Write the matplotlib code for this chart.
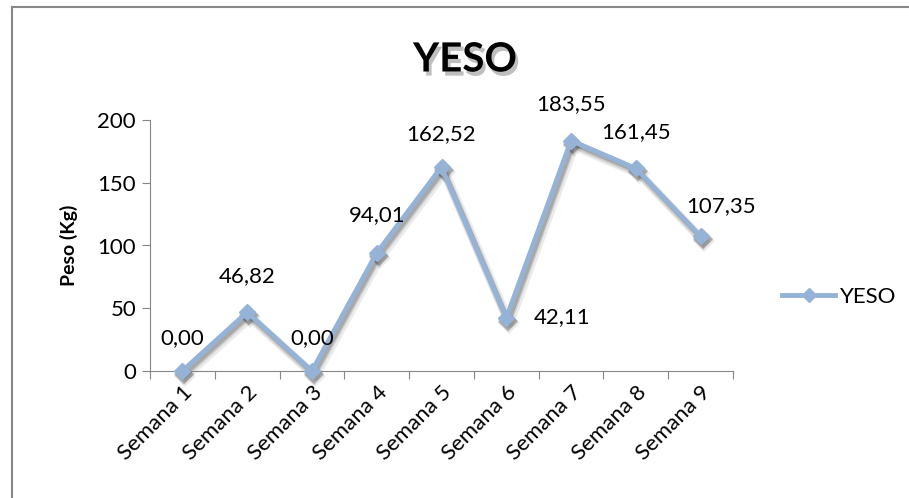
import matplotlib.pyplot as plt
import matplotlib.patheffects as pe
import matplotlib.transforms as mtransforms
from matplotlib.lines import Line2D

plt.rcParams['font.family'] = ['Lato', 'DejaVu Sans']

semanas = ['Semana 1', 'Semana 2', 'Semana 3', 'Semana 4', 'Semana 5',
           'Semana 6', 'Semana 7', 'Semana 8', 'Semana 9']
peso = [0.00, 46.82, 0.00, 94.01, 162.52, 42.11, 183.55, 161.45, 107.35]
etiquetas = ['0,00', '46,82', '0,00', '94,01', '162,52', '42,11', '183,55', '161,45', '107,35']

color = '#95B3D7'
fs = 16

fig = plt.figure(figsize=(9.09, 4.98), dpi=100)
ax = fig.add_axes([150 / 909, 1 - 371 / 498, 583 / 909, 251 / 498])

x = list(range(len(semanas)))

# soft shadow: a few offset translucent copies
for dx, dy, a, w in [(3, -5, 0.08, 7), (2, -4, 0.12, 5), (2, -3, 0.18, 3.5)]:
    off = mtransforms.offset_copy(ax.transData, fig=fig, x=dx, y=dy, units='dots')
    ax.plot(x, peso, color='black', alpha=a, lw=w, marker='D', markersize=8 + w / 2,
            markeredgewidth=0, transform=off, clip_on=False, zorder=1)

ax.plot(x, peso, color=color, lw=3.5, marker='D', markersize=8.5,
        solid_joinstyle='miter', label='YESO', clip_on=False, zorder=3)

# data labels (offsets in points)
offs = [(0, 24), (0, 26), (0, 24), (0, 27), (0, 24), (40, 1), (0, 26), (0, 26), (15, 22)]
for xi, yi, t, (dx, dy) in zip(x, peso, etiquetas, offs):
    ax.annotate(t, (xi, yi), xytext=(dx, dy), textcoords='offset points',
                ha='center', va='center', fontsize=fs)

ax.set_xlim(-0.5, len(semanas) - 0.5)
ax.set_ylim(0, 200)
ax.set_yticks([0, 50, 100, 150, 200])
ax.set_xticks([i - 0.5 for i in range(len(semanas) + 1)])
ax.set_xticklabels([])
ax.set_xticks(x, minor=True)
ax.set_xticklabels(semanas, minor=True, rotation=45, ha='right',
                   rotation_mode='anchor', fontsize=fs)
ax.tick_params(axis='x', which='minor', length=0, pad=8)
ax.tick_params(axis='x', which='major', length=6, direction='out', color='#868686')
ax.tick_params(axis='y', length=6, direction='out', color='#868686', labelsize=fs, pad=4)

for s in ['top', 'right']:
    ax.spines[s].set_visible(False)
for s in ['left', 'bottom']:
    ax.spines[s].set_color('#868686')

ax.set_ylabel('Peso (Kg)', fontsize=14, fontweight='bold', labelpad=14)

fig.text(465 / 909, 1 - 60 / 498, 'YESO', ha='center', va='center', fontsize=29,
         fontweight='bold',
         path_effects=[pe.SimplePatchShadow(offset=(2, -3), alpha=0.25), pe.Normal()])

handle = Line2D([], [], color=color, lw=3.5, marker='D', markersize=7)
fig.legend([handle], ['YESO'], loc='center left', bbox_to_anchor=(762 / 909, 1 - 297 / 498),
           frameon=False, fontsize=fs, handlelength=2.4, handletextpad=0.2)

# chart border (left and top)
fig.add_artist(Line2D([12 / 909, 12 / 909], [0, 1 - 7 / 498], color='#888888', lw=1.5,
                      transform=fig.transFigure))
fig.add_artist(Line2D([12 / 909, 1], [1 - 7 / 498, 1 - 7 / 498], color='#888888', lw=1.5,
                      transform=fig.transFigure))

fig.savefig('out.png', dpi=100)
